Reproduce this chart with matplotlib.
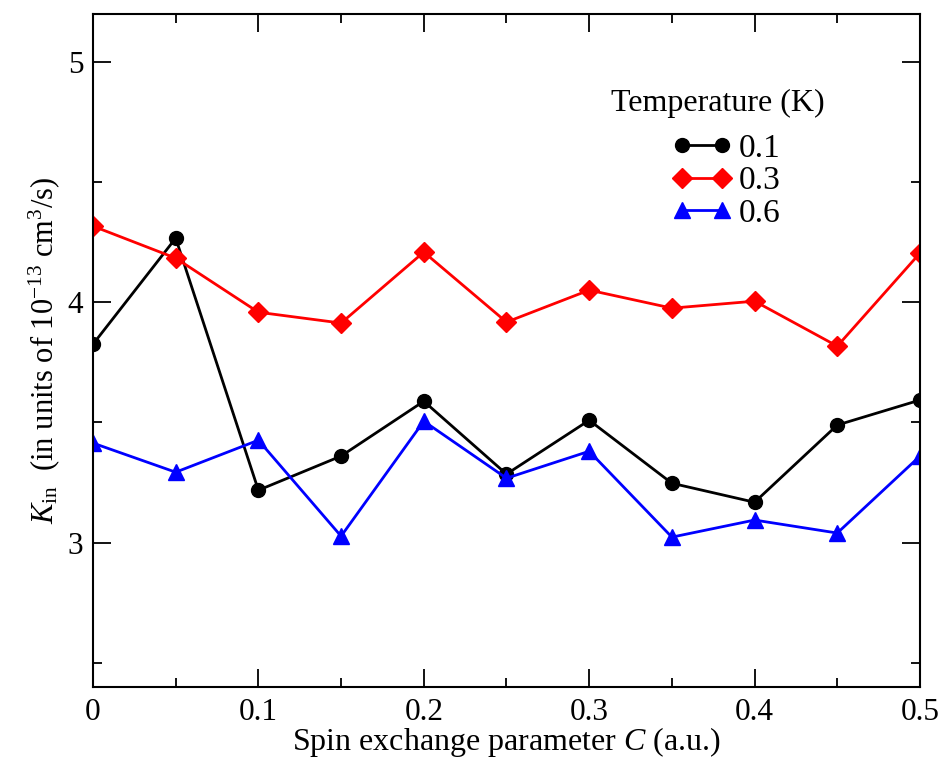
import matplotlib
matplotlib.use('Agg')
import matplotlib.pyplot as plt
from matplotlib.ticker import MultipleLocator

plt.rcParams['font.family'] = 'Liberation Serif'
plt.rcParams['mathtext.fontset'] = 'custom'
plt.rcParams['mathtext.rm'] = 'Liberation Serif'
plt.rcParams['mathtext.it'] = 'Liberation Serif:italic'

# spin exchange parameter C (a.u.)
c_vals = [0.0, 0.05, 0.1, 0.15, 0.2, 0.25, 0.3, 0.35, 0.4, 0.45, 0.5]

# K_in in units of 1e-13 cm^3/s for each temperature
k_01 = [3.825, 4.266, 3.218, 3.360, 3.588, 3.285, 3.509, 3.247, 3.168, 3.489, 3.593]
k_03 = [4.316, 4.183, 3.958, 3.913, 4.208, 3.917, 4.050, 3.975, 4.004, 3.817, 4.204]
k_06 = [3.414, 3.293, 3.426, 3.027, 3.505, 3.268, 3.380, 3.023, 3.094, 3.040, 3.360]

temps = ['0.1', '0.3', '0.6']
x_ticks = [0, 0.1, 0.2, 0.3, 0.4, 0.5]
x_labels = ['0', '0.1', '0.2', '0.3', '0.4', '0.5']
y_ticks = [3, 4, 5]

fig = plt.figure(figsize=(9.46, 7.59), dpi=100)
ax = fig.add_axes([0.0983, 0.0949, 0.8742, 0.8873])

ax.plot(c_vals, k_01, color='black', marker='o', ms=10, lw=2, label=temps[0])
ax.plot(c_vals, k_03, color='red', marker='D', ms=10, lw=2, label=temps[1])
ax.plot(c_vals, k_06, color='blue', marker='^', ms=12, lw=2, label=temps[2])

ax.set_xlim(0, 0.5)
ax.set_ylim(2.4, 5.2)
ax.set_xticks(x_ticks)
ax.set_xticklabels(x_labels)
ax.set_yticks(y_ticks)
ax.xaxis.set_minor_locator(MultipleLocator(0.05))
ax.yaxis.set_minor_locator(MultipleLocator(0.5))

ax.tick_params(which='both', direction='in', top=True, right=True,
               width=1.3, labelsize=22.5)
ax.tick_params(axis='x', pad=8)
ax.tick_params(axis='y', pad=7)
ax.tick_params(which='major', length=13)
ax.tick_params(which='minor', length=6.5)
for sp in ax.spines.values():
    sp.set_linewidth(1.5)

ax.set_xlabel('Spin exchange parameter $\\it{C}$ (a.u.)', fontsize=23)
ax.xaxis.set_label_coords(0.5, -0.056)
ax.set_ylabel('$\\it{K}_{\\rm in}$  (in units of 10$^{-13}$ cm$^3$/s)', fontsize=22, labelpad=4)

# legend title placed on its own, entries below it
ax.text(0.756, 0.867, 'Temperature (K)', transform=ax.transAxes,
        fontsize=23, ha='center', va='center')
ax.legend(loc='upper left', bbox_to_anchor=(0.700, 0.822), frameon=False,
          fontsize=24, numpoints=2, handlelength=1.8, handletextpad=0.2,
          labelspacing=0.06, borderaxespad=0, borderpad=0)

fig.savefig('out.png', dpi=100)
